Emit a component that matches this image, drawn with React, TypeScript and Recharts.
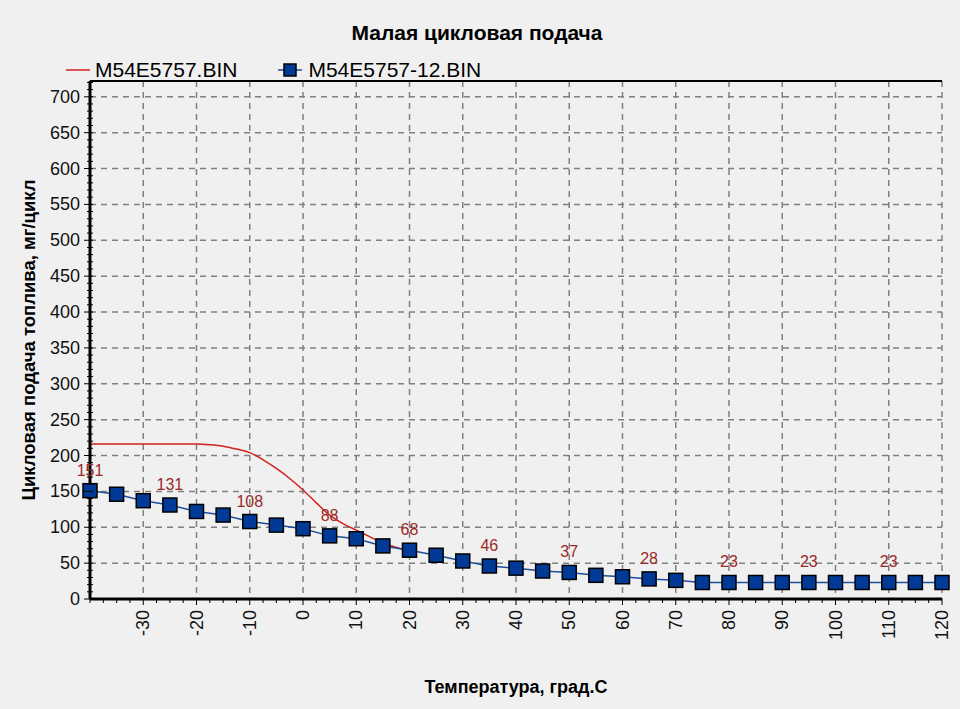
import React from 'react';
import { LineChart, Line, XAxis, YAxis, CartesianGrid, LabelList, ReferenceLine } from 'recharts';

// fuel per cycle vs coolant temperature
const temps = [-40, -35, -30, -25, -20, -15, -10, -5, 0, 5, 10, 15, 20, 25, 30, 35, 40, 45, 50, 55, 60, 65, 70, 75, 80, 85, 90, 95, 100, 105, 110, 115, 120];
const fuel12 = [151, 146, 137, 131, 122, 117, 108, 103, 98, 88, 84, 74, 68, 61, 53, 46, 43, 39, 37, 33, 31, 28, 26, 23, 23, 23, 23, 23, 23, 23, 23, 23, 23];

const labelTemps = [-40, -25, -10, 5, 20, 35, 50, 65, 80, 95, 110];
const labelValues = [151, 131, 108, 88, 68, 46, 37, 28, 23, 23, 23];

const stockTemps = [-40, -35, -30, -25, -20, -17.5, -15, -12.5, -10, -7.5, -5, -2.5, 0, 2.5, 5, 7.5, 10, 12.5, 15, 17.5, 19];
const stockFuel = [216, 216, 216, 216, 216, 215, 213, 209, 204, 194, 182, 168, 152, 134, 117, 105, 96, 87, 78, 72, 69];

const xMajor = [-30, -20, -10, 0, 10, 20, 30, 40, 50, 60, 70, 80, 90, 100, 110, 120];
const xTicks = [-40, -37.5, -35, -32.5, -30, -27.5, -25, -22.5, -20, -17.5, -15, -12.5, -10, -7.5, -5, -2.5, 0, 2.5, 5, 7.5, 10, 12.5, 15, 17.5, 20, 22.5, 25, 27.5, 30, 32.5, 35, 37.5, 40, 42.5, 45, 47.5, 50, 52.5, 55, 57.5, 60, 62.5, 65, 67.5, 70, 72.5, 75, 77.5, 80, 82.5, 85, 87.5, 90, 92.5, 95, 97.5, 100, 102.5, 105, 107.5, 110, 112.5, 115, 117.5, 120];
const yMajor = [0, 50, 100, 150, 200, 250, 300, 350, 400, 450, 500, 550, 600, 650, 700];
const yTicks = [0, 10, 20, 30, 40, 50, 60, 70, 80, 90, 100, 110, 120, 130, 140, 150, 160, 170, 180, 190, 200, 210, 220, 230, 240, 250, 260, 270, 280, 290, 300, 310, 320, 330, 340, 350, 360, 370, 380, 390, 400, 410, 420, 430, 440, 450, 460, 470, 480, 490, 500, 510, 520, 530, 540, 550, 560, 570, 580, 590, 600, 610, 620, 630, 640, 650, 660, 670, 680, 690, 700, 710, 720];

const Y_MAX = 722;
const FONT = '"Liberation Sans", Arial, sans-serif';

const blueRows = temps.map((t, i) => {
  const li = labelTemps.indexOf(t);
  return { t, v: fuel12[i], label: li >= 0 ? labelValues[li] : null };
});
const redRows = stockTemps.map((t, i) => ({ t, v: stockFuel[i] }));

const XTick = (props: any) => {
  const { x, y, payload } = props;
  const v = payload.value;
  const major = xMajor.includes(v);
  return (
    <g>
      <line x1={x} x2={x} y1={y} y2={y + (major ? 6 : 4)} stroke="#000" strokeWidth={1} />
      {major && (
        <text
          x={x}
          y={y + 11}
          transform={`rotate(-90, ${x}, ${y + 11})`}
          textAnchor="end"
          dominantBaseline="central"
          fontSize={18}
          fontFamily={FONT}
          fill="#111"
        >
          {v}
        </text>
      )}
    </g>
  );
};

const YTick = (props: any) => {
  const { x, y, payload } = props;
  const v = payload.value;
  const major = yMajor.includes(v);
  return (
    <g>
      <line x1={major ? x - 6 : x - 3} x2={x + 3} y1={y} y2={y} stroke="#000" strokeWidth={1} />
      {major && (
        <text x={x - 10} y={y} textAnchor="end" dominantBaseline="central" fontSize={18} fontFamily={FONT} fill="#111">
          {v}
        </text>
      )}
    </g>
  );
};

const Square = (props: any) => {
  const { cx, cy, index } = props;
  if (cx == null || cy == null) return null;
  return <rect key={`sq-${index}`} x={cx - 7} y={cy - 7} width={14} height={14} fill="#003a96" stroke="#000" strokeWidth={1.5} />;
};

const renderValue = (props: any) => {
  const { x, y, value } = props;
  if (value == null) return null;
  return (
    <text x={x} y={y - 15} textAnchor="middle" fontSize={16} fontFamily={FONT} fill="#9a2a2a">
      {value}
    </text>
  );
};

export default function App() {
  return (
    <div style={{ position: 'absolute', left: 0, top: 0, width: 960, height: 709, background: '#f0f0f0', fontFamily: FONT, color: '#000' }}>
      <div style={{ position: 'absolute', left: 0, width: 954, top: 21, textAlign: 'center', fontSize: 21, fontWeight: 'bold', lineHeight: '24px' }}>
        Малая цикловая подача
      </div>
      <div style={{ position: 'absolute', left: 66, top: 58, height: 24, fontSize: 21, lineHeight: '24px', display: 'flex', alignItems: 'center' }}>
        <svg width={26} height={20}>
          <line x1={0} x2={24} y1={10} y2={10} stroke="#d42020" strokeWidth={1.5} />
        </svg>
        <span style={{ marginLeft: 3 }}>M54E5757.BIN</span>
        <svg width={26} height={20} style={{ marginLeft: 41 }}>
          <line x1={0} x2={24} y1={10} y2={10} stroke="#1c4fa0" strokeWidth={1.5} />
          <rect x={6} y={4} width={12} height={12} fill="#003a96" stroke="#000" strokeWidth={1.5} />
        </svg>
        <span style={{ marginLeft: 4 }}>M54E5757-12.BIN</span>
      </div>
      <LineChart width={960} height={709} margin={{ top: 81, right: 18, bottom: 0, left: 0 }}>
        <CartesianGrid
          horizontalValues={yMajor}
          verticalValues={xMajor}
          stroke="#808080"
          strokeWidth={1.5}
          strokeDasharray="6 5"
        />
        <XAxis
          dataKey="t"
          type="number"
          domain={[-40, 120]}
          ticks={xTicks}
          interval={0}
          tick={<XTick />}
          tickLine={false}
          tickSize={0}
          tickMargin={0}
          height={110}
          axisLine={{ stroke: '#000', strokeWidth: 3 }}
          allowDuplicatedCategory={false}
          label={{
            content: ({ viewBox }: any) => (
              <text
                x={viewBox.x + viewBox.width / 2}
                y={viewBox.y + 88}
                textAnchor="middle"
                dominantBaseline="central"
                fontSize={18}
                fontWeight="bold"
                fontFamily={FONT}
                fill="#000"
              >
                Температура, град.С
              </text>
            ),
          }}
        />
        <YAxis
          type="number"
          domain={[0, Y_MAX]}
          ticks={yTicks}
          interval={0}
          tick={<YTick />}
          tickLine={false}
          tickSize={0}
          tickMargin={0}
          width={90}
          axisLine={{ stroke: '#000', strokeWidth: 3 }}
          label={{
            content: ({ viewBox }: any) => {
              const cx = 28;
              const cy = viewBox.y + viewBox.height / 2;
              return (
                <text
                  x={cx}
                  y={cy}
                  transform={`rotate(-90, ${cx}, ${cy})`}
                  textAnchor="middle"
                  dominantBaseline="central"
                  fontSize={18.5}
                  fontWeight="bold"
                  fontFamily={FONT}
                  fill="#000"
                >
                  Цикловая подача топлива, мг/цикл
                </text>
              );
            },
          }}
        />
        <ReferenceLine y={Y_MAX} stroke="#000" strokeWidth={2} />
        <Line
          data={redRows}
          dataKey="v"
          type="monotone"
          stroke="#d42020"
          strokeWidth={1.5}
          dot={false}
          isAnimationActive={false}
        />
        <Line
          data={blueRows}
          dataKey="v"
          type="linear"
          stroke="#1c4fa0"
          strokeWidth={1.5}
          dot={<Square />}
          isAnimationActive={false}
        >
          <LabelList dataKey="label" content={renderValue} />
        </Line>
      </LineChart>
    </div>
  );
}
